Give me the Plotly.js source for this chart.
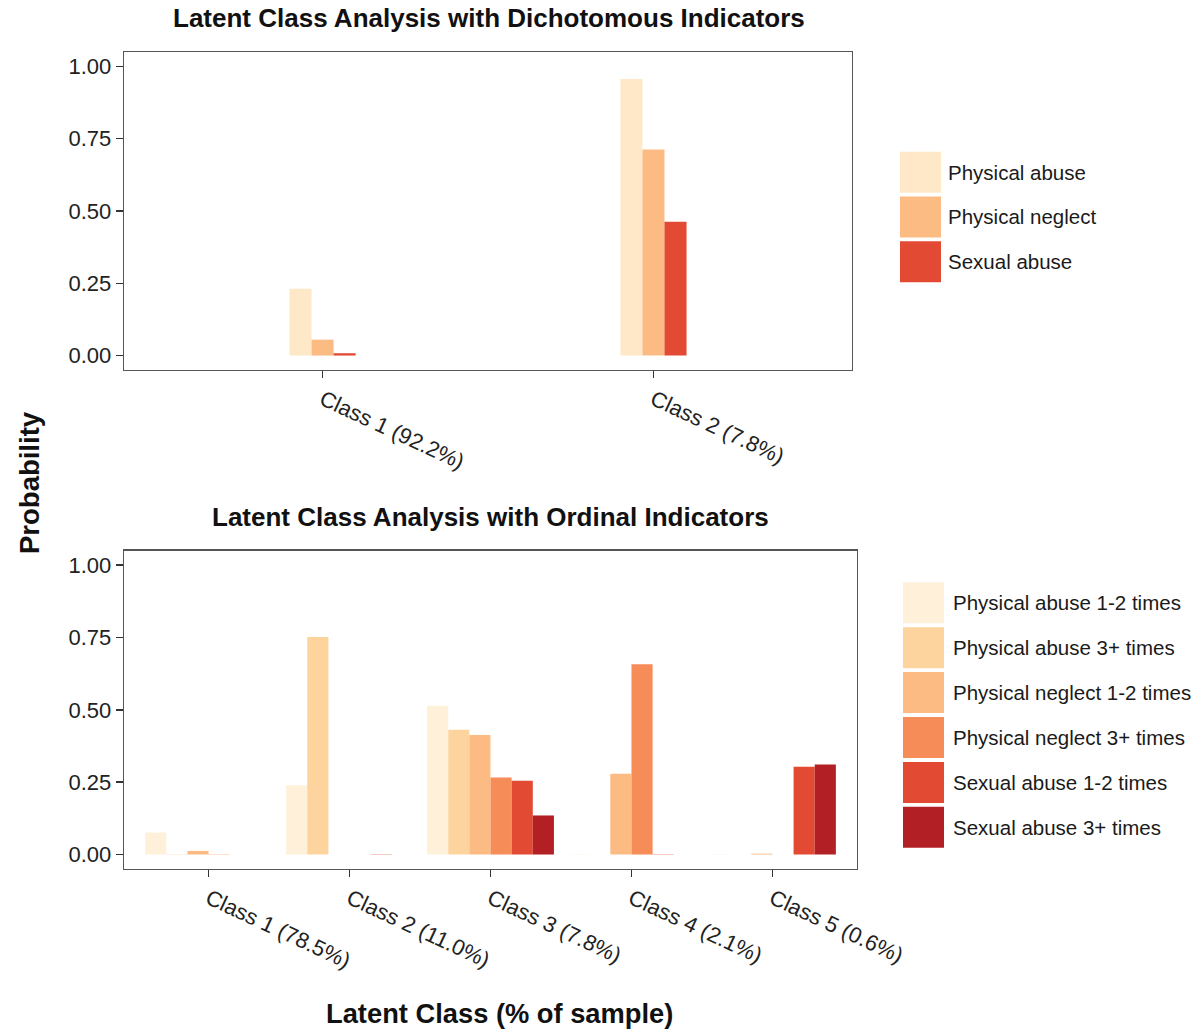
<!DOCTYPE html>
<html>
<head>
<meta charset="utf-8">
<script src="https://cdn.plot.ly/plotly-3.0.1.min.js"></script>
<style>html,body{margin:0;padding:0;background:#fff;}#chart{width:1201px;height:1031px;}</style>
</head>
<body>
<div id="chart"></div>
<script>
// ---- Data: dichotomous indicators (top panel) ----
var dichoClasses = ['Class 1 (92.2%)', 'Class 2 (7.8%)'];
var dichoNames = ['Physical abuse', 'Physical neglect', 'Sexual abuse'];
var dichoPhysAbuse = [0.231, 0.957];
var dichoPhysNeglect = [0.055, 0.713];
var dichoSexAbuse = [0.008, 0.463];
var dichoColors = ['#FEE8C8', '#FDBB84', '#E34A33'];

// ---- Data: ordinal indicators (bottom panel) ----
var ordClasses = ['Class 1 (78.5%)', 'Class 2 (11.0%)', 'Class 3 (7.8%)', 'Class 4 (2.1%)', 'Class 5 (0.6%)'];
var ordNames = ['Physical abuse 1-2 times', 'Physical abuse 3+ times', 'Physical neglect 1-2 times',
                'Physical neglect 3+ times', 'Sexual abuse 1-2 times', 'Sexual abuse 3+ times'];
var ordPA12 = [0.076, 0.239, 0.514, 0.001, 0.001];
var ordPA3  = [0.001, 0.752, 0.431, 0.000, 0.000];
var ordPN12 = [0.0125, 0.000, 0.413, 0.279, 0.003];
var ordPN3  = [0.001, 0.000, 0.266, 0.658, 0.000];
var ordSA12 = [0.000, 0.001, 0.255, 0.001, 0.303];
var ordSA3  = [0.000, 0.000, 0.135, 0.000, 0.311];
var ordColors = ['#FEF0D9', '#FDD49E', '#FDBB84', '#F68D59', '#E34A33', '#B21F24'];

var W = 1201, H = 1031;
var FONT = '"Liberation Sans", Arial, Helvetica, sans-serif';
function px(x) { return x / W; }
function py(y) { return 1 - y / H; }

var traces = [];
var dichoSeries = [dichoPhysAbuse, dichoPhysNeglect, dichoSexAbuse];
var dw = 0.2 / dichoSeries.length;
dichoSeries.forEach(function (vals, i) {
  traces.push({
    type: 'bar', x: dichoClasses, y: vals, name: dichoNames[i],
    xaxis: 'x', yaxis: 'y', width: dw, offset: -0.1 + i * dw,
    marker: { color: dichoColors[i], line: { width: 0 } },
    showlegend: false, hoverinfo: 'x+y+name'
  });
});
var ordSeries = [ordPA12, ordPA3, ordPN12, ordPN3, ordSA12, ordSA3];
var ow = 0.9 / ordSeries.length;
ordSeries.forEach(function (vals, i) {
  traces.push({
    type: 'bar', x: ordClasses, y: vals, name: ordNames[i],
    xaxis: 'x2', yaxis: 'y2', width: ow, offset: -0.45 + i * ow,
    marker: { color: ordColors[i], line: { width: 0 } },
    showlegend: false, hoverinfo: 'x+y+name'
  });
});

var tickFont = { family: FONT, size: 22, color: '#222' };
function xAxis(domain, n, anchor) {
  return {
    domain: domain, anchor: anchor, type: 'category', range: [-0.6, n - 0.4],
    showline: true, mirror: true, linecolor: '#555', linewidth: 1.3,
    ticks: 'outside', ticklen: 7, tickwidth: 1.5, tickcolor: '#333',
    tickangle: 25, tickfont: tickFont, showgrid: false, zeroline: false, fixedrange: true
  };
}
function yAxis(domain, anchor) {
  return {
    domain: domain, anchor: anchor, range: [-0.05, 1.05],
    tickvals: [0, 0.25, 0.5, 0.75, 1], tickformat: '.2f',
    showline: true, mirror: true, linecolor: '#555', linewidth: 1.3,
    ticks: 'outside', ticklen: 7, tickwidth: 1.5, tickcolor: '#333',
    tickfont: tickFont, showgrid: false, zeroline: false, fixedrange: true
  };
}

var shapes = [], annotations = [];
function buildLegend(names, colors, keyX0, textX, firstY, pitch) {
  names.forEach(function (n, i) {
    var y0 = firstY + i * pitch;
    shapes.push({
      type: 'rect', xref: 'paper', yref: 'paper',
      x0: px(keyX0), x1: px(keyX0 + 41), y0: py(y0 + 41), y1: py(y0),
      fillcolor: colors[i], line: { width: 0 }
    });
    annotations.push({
      xref: 'paper', yref: 'paper', x: px(textX), y: py(y0 + 20.5),
      xanchor: 'left', yanchor: 'middle', showarrow: false, text: n,
      font: { family: FONT, size: 20.5, color: '#1a1a1a' }
    });
  });
}
buildLegend(dichoNames, dichoColors, 900, 946, 151.7, 44.8);
buildLegend(ordNames, ordColors, 903, 950.5, 582.3, 44.9);

var titleFont = { family: FONT, size: 26, color: '#111' };
annotations.push({ xref: 'paper', yref: 'paper', x: px(488.5), y: py(18), xanchor: 'center', yanchor: 'middle',
  showarrow: false, text: '<b>Latent Class Analysis with Dichotomous Indicators</b>', font: titleFont });
annotations.push({ xref: 'paper', yref: 'paper', x: px(490.5), y: py(517), xanchor: 'center', yanchor: 'middle',
  showarrow: false, text: '<b>Latent Class Analysis with Ordinal Indicators</b>', font: titleFont });
annotations.push({ xref: 'paper', yref: 'paper', x: px(30), y: py(483), xanchor: 'center', yanchor: 'middle',
  showarrow: false, textangle: -90, text: '<b>Probability</b>', font: { family: FONT, size: 27.5, color: '#111' } });
annotations.push({ xref: 'paper', yref: 'paper', x: px(499), y: py(1013), xanchor: 'center', yanchor: 'middle',
  showarrow: false, text: '<b>Latent Class (% of sample)</b>', font: { family: FONT, size: 27.3, color: '#111' } });

var layout = {
  width: W, height: H,
  margin: { l: 0, r: 0, t: 0, b: 0 },
  paper_bgcolor: '#fff', plot_bgcolor: '#fff',
  barmode: 'overlay', showlegend: false,
  font: { family: FONT },
  xaxis: xAxis([px(124), px(852)], dichoClasses.length, 'y'),
  yaxis: yAxis([py(370), py(52)], 'x'),
  xaxis2: xAxis([px(124), px(857)], ordClasses.length, 'y2'),
  yaxis2: yAxis([py(869), py(550.7)], 'x2'),
  shapes: shapes, annotations: annotations
};

Plotly.newPlot('chart', traces, layout, { displayModeBar: false, staticPlot: true });
</script>
</body>
</html>
